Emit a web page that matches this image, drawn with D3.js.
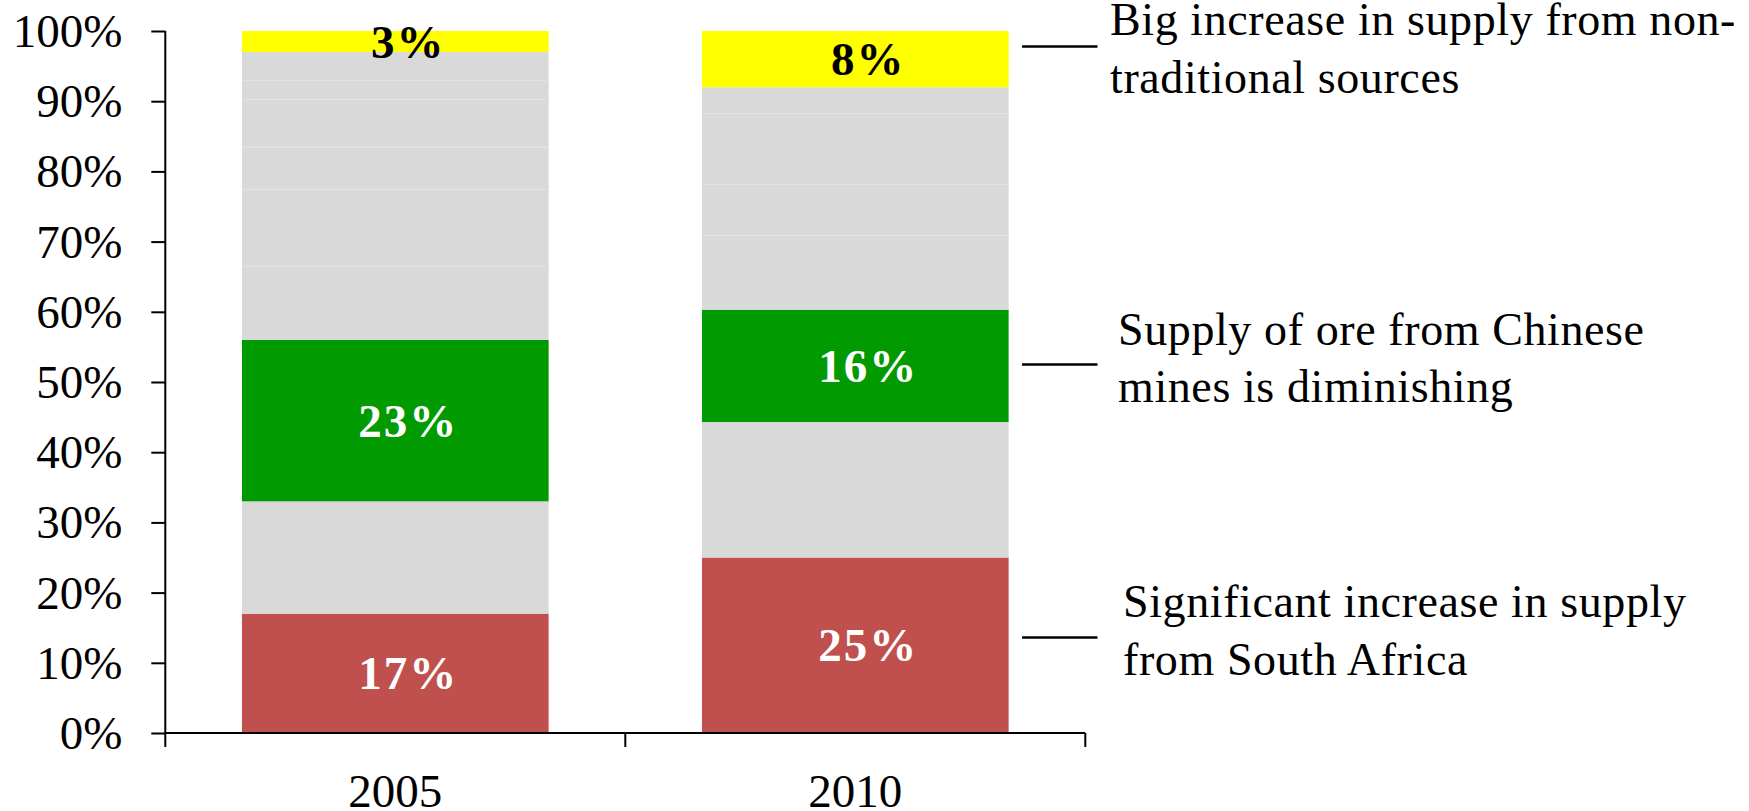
<!DOCTYPE html>
<html>
<head>
<meta charset="utf-8">
<script src="https://cdn.jsdelivr.net/npm/d3@7"></script>
<style>
  html, body { margin: 0; padding: 0; background: #fff; }
  svg { display: block; }
  text { font-family: "Liberation Serif", "Times New Roman", serif; }
</style>
</head>
<body>
<svg id="chart" width="1749" height="811"></svg>
<script>
// Share of supply by source, percent of total
const years = ["2005", "2010"];
const southAfrica = [17, 25];
const otherLower = [16, 19.3];
const chineseMines = [23, 16];
const otherUpperA = [10.5, 10.6];
const otherUpperB = [11, 7.3];
const otherUpperC = [6, 10.1];
const otherUpperD = [6.8, 3.7];
const otherUpperE = [2.7, 0];
const otherUpperF = [4, 0];
const nonTraditional = [3, 8];

const yTicks = [0, 10, 20, 30, 40, 50, 60, 70, 80, 90, 100];

const notes = [
  { lines: ["Big increase in supply from non-", "traditional sources"], at: 97.8 },
  { lines: ["Supply of ore from Chinese", "mines is diminishing"], at: 52.5 },
  { lines: ["Significant increase in supply", "from South Africa"], at: 13.6 }
];

const seriesKeys = ["southAfrica", "otherLower", "chineseMines",
  "otherUpperA", "otherUpperB", "otherUpperC", "otherUpperD", "otherUpperE", "otherUpperF",
  "nonTraditional"];
const seriesValues = { southAfrica, otherLower, chineseMines,
  otherUpperA, otherUpperB, otherUpperC, otherUpperD, otherUpperE, otherUpperF,
  nonTraditional };

const table = years.map((yr, i) => {
  const row = { year: yr };
  seriesKeys.forEach(k => row[k] = seriesValues[k][i]);
  return row;
});

const fillOf = k => k === "southAfrica" ? "#c0504d"
  : k === "chineseMines" ? "#019a01"
  : k === "nonTraditional" ? "#ffff00"
  : "#d9d9d9";
const labelled = { southAfrica: "#ffffff", chineseMines: "#ffffff", nonTraditional: "#000000" };

const svg = d3.select("#chart");
const margin = { left: 165.3, top: 31, right: 1749 - 1085.3, bottom: 811 - 733 };
const W = 1749 - margin.left - margin.right;
const H = 811 - margin.top - margin.bottom;

const g = svg.append("g").attr("transform", `translate(${margin.left},${margin.top})`);

const x = d3.scaleBand().domain(years).range([0, W]).paddingInner(1 / 3).paddingOuter(1 / 6);
const y = d3.scaleLinear().domain([0, 100]).range([H, 0]);

const stacked = d3.stack().keys(seriesKeys)(table);

// stacked segments
const layers = g.selectAll("g.layer").data(stacked).join("g")
  .attr("class", "layer")
  .attr("fill", d => fillOf(d.key));

layers.selectAll("rect").data(d => d.filter(p => p[1] - p[0] > 0)).join("rect")
  .attr("x", p => x(p.data.year))
  .attr("width", x.bandwidth())
  .attr("y", p => y(p[1]))
  .attr("height", p => y(p[0]) - y(p[1]));

// faint seams between the grey sub-segments
const greyKeys = ["otherUpperA", "otherUpperB", "otherUpperC", "otherUpperD", "otherUpperE", "otherUpperF"];
stacked.filter(s => greyKeys.includes(s.key)).forEach(s => {
  const next = stacked[seriesKeys.indexOf(s.key) + 1];
  if (!greyKeys.includes(next.key)) return;
  s.forEach((p, i) => {
    if (p[1] - p[0] <= 0 || next[i][1] - next[i][0] <= 0) return;
    const yy = Math.round(y(p[1])) + 0.5;
    g.append("line")
      .attr("x1", x(p.data.year)).attr("x2", x(p.data.year) + x.bandwidth())
      .attr("y1", yy).attr("y2", yy)
      .attr("stroke", "#e2e2e2").attr("stroke-width", 1);
  });
});

// value labels
stacked.filter(s => labelled[s.key]).forEach(s => {
  g.selectAll(null).data(s).join("text")
    .attr("x", p => x(p.data.year) + x.bandwidth() / 2 + 13)
    .attr("y", p => (y(p[0]) + y(p[1])) / 2)
    .attr("dy", "0.34em")
    .attr("text-anchor", "middle")
    .attr("font-size", 47)
    .attr("font-weight", "bold")
    .attr("letter-spacing", 2)
    .attr("fill", labelled[s.key])
    .text(p => d3.format("d")(p[1] - p[0]) + "%");
});

// y axis
const yAxis = g.append("g")
  .call(d3.axisLeft(y).tickValues(yTicks).tickFormat(d => d + "%").tickSize(14).tickPadding(29));
yAxis.select(".domain").attr("stroke", "#000").attr("stroke-width", 2).attr("d", `M0,${H}V0`);
yAxis.selectAll(".tick line").attr("stroke", "#000").attr("stroke-width", 2);
yAxis.selectAll(".tick text").attr("font-size", 47).attr("fill", "#000")
  .attr("font-family", "Liberation Serif").attr("dy", "0.33em");

// x axis: line, boundary ticks, centred year labels
const gap = (x.step() - x.bandwidth()) / 2;
const bounds = years.map(d => x(d) - gap).concat([x(years[years.length - 1]) + x.bandwidth() + gap]);
const xAxis = g.append("g").attr("transform", `translate(0,${H})`);
xAxis.append("line").attr("x1", 0).attr("x2", W).attr("y1", 0).attr("y2", 0)
  .attr("stroke", "#000").attr("stroke-width", 2);
xAxis.selectAll("line.b").data(bounds).join("line").attr("class", "b")
  .attr("x1", d => d).attr("x2", d => d).attr("y1", 0).attr("y2", 14)
  .attr("stroke", "#000").attr("stroke-width", 2);
xAxis.selectAll("text").data(years).join("text")
  .attr("x", d => x(d) + x.bandwidth() / 2)
  .attr("y", 73.5)
  .attr("text-anchor", "middle")
  .attr("font-size", 47)
  .text(d => d);

// callouts on the right
const noteLayout = [
  { x1: 1022, x2: 1097.5, tx: 1110, dy: [-11.7, 46.6] },
  { x1: 1022, x2: 1097.5, tx: 1118, dy: [-19.5, 37.4] },
  { x1: 1022, x2: 1097.5, tx: 1123, dy: [-20.6, 37.7] }
];
notes.forEach((n, i) => {
  const L = noteLayout[i];
  const ly = margin.top + y(n.at);
  svg.append("line").attr("x1", L.x1).attr("x2", L.x2).attr("y1", ly).attr("y2", ly)
    .attr("stroke", "#000").attr("stroke-width", 2.5);
  n.lines.forEach((t, j) => {
    svg.append("text").attr("x", L.tx).attr("y", ly + L.dy[j])
      .attr("font-size", 46).attr("letter-spacing", 0.6).attr("fill", "#000").text(t);
  });
});
</script>
</body>
</html>
